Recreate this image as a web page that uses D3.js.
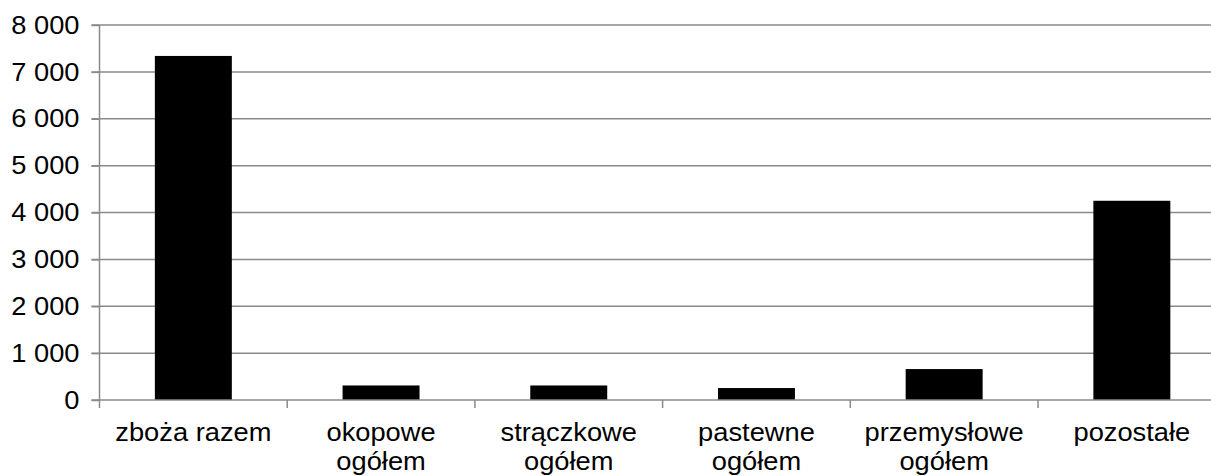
<!DOCTYPE html>
<html>
<head>
<meta charset="utf-8">
<script src="https://cdn.jsdelivr.net/npm/d3@7"></script>
<style>
  body { margin: 0; background: #fff; }
  svg { display: block; }
  text { font-family: "Liberation Sans", Arial, sans-serif; }
</style>
</head>
<body>
<div id="chartContainer"></div>
<script>
// data
const categories = [
    ["zboża razem"],
    ["okopowe", "ogółem"],
    ["strączkowe", "ogółem"],
    ["pastewne", "ogółem"],
    ["przemysłowe", "ogółem"],
    ["pozostałe"]
];
const values = [7340, 310, 310, 255, 660, 4250];
const yTicks = [0, 1000, 2000, 3000, 4000, 5000, 6000, 7000, 8000];

const W = 1211, H = 476;
const left = 99.5, zeroY = 400, topY = 25, step = 187.7;
const gridColor = "#8a8a8a";
const stretch = 1.07; // text in the original is a bit wider than Arial
const fmt = d => d3.format(",")(d).replace(/,/g, " ");

const svg = d3.select("#chartContainer").append("svg")
    .attr("width", W)
    .attr("height", H);

const x = d3.scaleBand()
    .domain(d3.range(categories.length))
    .range([left, left + step * categories.length])
    .padding(0);
const y = d3.scaleLinear().domain([0, 8000]).range([zeroY, topY]);

// horizontal gridlines
svg.append("g")
    .selectAll("line")
    .data(yTicks.filter(d => d > 0))
    .join("line")
    .attr("x1", left - 8)
    .attr("x2", x.range()[1])
    .attr("y1", d => y(d))
    .attr("y2", d => y(d))
    .attr("stroke", gridColor)
    .attr("stroke-width", 1.5);

// bars
const barW = x.bandwidth() * 0.41;
svg.append("g")
    .selectAll("rect")
    .data(values)
    .join("rect")
    .attr("x", (d, i) => x(i) + (x.bandwidth() - barW) / 2)
    .attr("y", d => y(d))
    .attr("width", barW)
    .attr("height", d => y(0) - y(d))
    .attr("fill", "#000");

// y axis
const yAxis = svg.append("g")
    .attr("transform", `translate(${left},0)`)
    .call(d3.axisLeft(y).tickValues(yTicks).tickFormat(fmt).tickSize(8).tickPadding(20 / stretch - 8));
yAxis.selectAll("path, line").attr("stroke", gridColor).attr("stroke-width", 1.5);
yAxis.select(".domain").attr("d", `M0,${topY}V${zeroY}`);
yAxis.selectAll("text")
    .attr("font-size", 25.5)
    .attr("fill", "#000")
    .attr("transform", `scale(${stretch},1)`)
    .style("font-family", "'Liberation Sans', Arial, sans-serif");

// x axis with ticks at category boundaries
const xAxis = svg.append("g")
    .attr("transform", `translate(0,${zeroY})`);
xAxis.append("line")
    .attr("x1", left - 8)
    .attr("x2", x.range()[1])
    .attr("stroke", gridColor)
    .attr("stroke-width", 1.5);
xAxis.selectAll(".tk")
    .data(d3.range(categories.length + 1))
    .join("line")
    .attr("class", "tk")
    .attr("x1", i => left + i * step)
    .attr("x2", i => left + i * step)
    .attr("y1", 0)
    .attr("y2", 8)
    .attr("stroke", gridColor)
    .attr("stroke-width", 1.5);

const labels = xAxis.selectAll(".lbl")
    .data(categories)
    .join("text")
    .attr("class", "lbl")
    .attr("text-anchor", "middle")
    .attr("font-size", 25.5)
    .attr("fill", "#000")
    .attr("transform", (d, i) => `translate(${x(i) + x.bandwidth() / 2},0) scale(${stretch},1)`);
labels.selectAll("tspan")
    .data(d => d)
    .join("tspan")
    .attr("x", 0)
    .attr("y", (d, j) => 41 + j * 29)
    .text(d => d);
</script>
</body>
</html>
